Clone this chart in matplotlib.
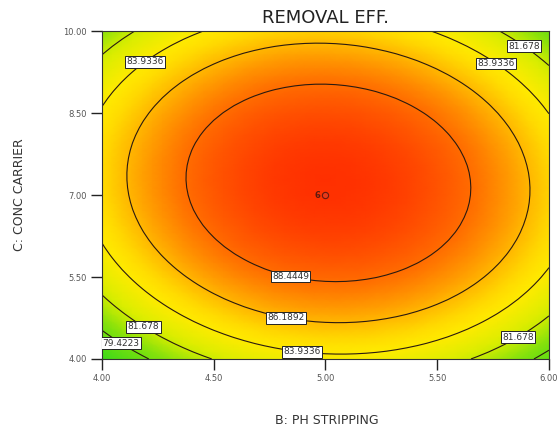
import numpy as np
import matplotlib.pyplot as plt
from matplotlib.colors import LinearSegmentedColormap

# quadratic model in coded units (x = B - 5, y = (C - 7) / 3)
coef_names = ['intercept', 'B', 'C', 'BC', 'B2', 'C2']
coef_vals = [90.66, 0.19, 0.93, -0.60, -5.55, -6.21]

levels = [79.4223, 81.678, 83.9336, 86.1892, 88.4449]
label_pos = [(4.10, 4.38), (4.20, 4.68), (5.85, 4.49), (5.90, 9.80),
             (4.18, 9.51), (5.78, 9.51), (4.90, 4.26), (4.83, 4.86), (4.85, 5.63)]

x_ticks = [4.00, 4.50, 5.00, 5.50, 6.00]
y_ticks = [4.00, 5.50, 7.00, 8.50, 10.00]

design_pt = (5.00, 7.00)
design_count = '6'

c = dict(zip(coef_names, coef_vals))
B = np.linspace(4, 6, 45)
C = np.linspace(4, 10, 45)
BB, CC = np.meshgrid(B, C)
xx = BB - 5
yy = (CC - 7) / 3
Z = (c['intercept'] + c['B'] * xx + c['C'] * yy + c['BC'] * xx * yy
     + c['B2'] * xx ** 2 + c['C2'] * yy ** 2)

# green -> yellow -> red, like Design-Expert
zmin, zmax = 77.0, 90.8
def f(v):
    return (v - zmin) / (zmax - zmin)
cmap = LinearSegmentedColormap.from_list('de', [
    (0.0, (0.22, 0.85, 0.10)),
    (f(80.0), (0.50, 0.88, 0.05)),
    (f(82.0), (0.85, 0.93, 0.00)),
    (f(84.0), (1.00, 0.92, 0.00)),
    (f(85.0), (1.00, 0.86, 0.00)),
    (f(86.2), (1.00, 0.72, 0.00)),
    (f(88.4), (1.00, 0.43, 0.00)),
    (1.0, (1.00, 0.18, 0.00)),
])

fig = plt.figure(figsize=(5.59, 4.33), dpi=100)
ax = fig.add_axes([0.1825, 0.171, 0.7995, 0.757])

ax.pcolormesh(BB, CC, Z, cmap=cmap, vmin=zmin, vmax=zmax, shading='gouraud')
cs = ax.contour(BB, CC, Z, levels=levels, colors='#2a1a10', linewidths=0.8)
labels = ax.clabel(cs, fmt={lv: ('%.4f' % lv).rstrip('0') for lv in levels},
                   manual=label_pos, inline=False, fontsize=6.5)
for t in labels:
    t.set_rotation(0)
    t.set_color('#333333')
    t.set_bbox(dict(facecolor='white', edgecolor='#222222', pad=1.0, linewidth=0.7))

ax.plot(design_pt[0], design_pt[1], 'o', ms=4.5, mfc='#e83a1a', mec='#6a1a10', mew=0.8)
ax.text(design_pt[0] - 0.025, design_pt[1], design_count, fontsize=6, fontweight='bold',
        color='#5a1a10', ha='right', va='center')

ax.set_xlim(4, 6)
ax.set_ylim(4, 10)
ax.set_xticks(x_ticks)
ax.set_yticks(y_ticks)
ax.set_xticklabels(['%.2f' % v for v in x_ticks])
ax.set_yticklabels(['%.2f' % v for v in y_ticks])
ax.tick_params(direction='out', length=8, width=1, labelsize=6, colors='#222222',
               labelcolor='#555555', pad=3)
for s in ax.spines.values():
    s.set_linewidth(0.8)
    s.set_color('#333333')

ax.set_title('REMOVAL EFF.', fontsize=13, color='#222222', pad=6)
fig.text(0.585, 0.02, 'B: PH STRIPPING', fontsize=9, color='#333333', ha='center')
fig.text(0.035, 0.55, 'C: CONC CARRIER', fontsize=9, color='#333333', rotation=90,
         ha='center', va='center')

fig.savefig('out.png', dpi=100)
